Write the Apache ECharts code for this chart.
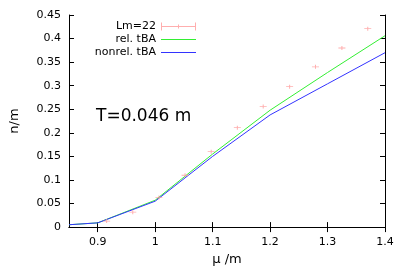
<!DOCTYPE html>
<html><head><meta charset="utf-8">
<script src="https://cdn.jsdelivr.net/npm/echarts@6/dist/echarts.min.js"></script>
<style>html,body{margin:0;padding:0;background:#fff}#c{width:407px;height:271px}</style>
</head><body><div id="c"></div>
<script>
var muLattice = [0.9155, 0.961, 1.0065, 1.052, 1.0975, 1.143, 1.188, 1.234, 1.279, 1.325, 1.370];
var nLattice  = [0.0127, 0.0317, 0.063, 0.110, 0.160, 0.211, 0.256, 0.298, 0.340, 0.380, 0.421];
var muTBA = [0.85, 0.9, 1.0, 1.1, 1.2, 1.3, 1.4];
var nRel = [0.005, 0.009, 0.057, 0.155, 0.248, 0.328, 0.406];
var nNonrel = [0.005, 0.009, 0.055, 0.150, 0.238, 0.304, 0.370];
var xTicks = [0.9, 1.0, 1.1, 1.2, 1.3, 1.4];
var F = 'DejaVu Sans';
function zip(a, b) { return a.map(function (v, i) { return [v, b[i]]; }); }
var chart = echarts.init(document.getElementById('c'));
var fmt = function (v) { return String(+(+v).toFixed(2)); };
var axLine = { show: true, lineStyle: { color: '#000', width: 1 } };
var tick = { show: true, inside: true, length: 5, lineStyle: { color: '#000' } };
var errIcon = 'path://M0,0h1v8h-1z M0,3.5h35v1h-35z M34,0h1v8h-1z M17,2h1v4h-1z';
var lineIcon = 'path://M0,3.5h35v1h-35z M0,0h0.01v8h-0.01z';
var legendBase = { orient: 'vertical', align: 'right', itemWidth: 35, itemHeight: 8, padding: 0,
  textStyle: { fontFamily: F, fontSize: 11, color: '#000' } };
chart.setOption({
  animation: false,
  grid: { left: 67, right: 22, top: 15, bottom: 43 },
  xAxis: [{
    type: 'value', min: 0.85, max: 1.4,
    name: 'μ /m', nameLocation: 'middle', nameGap: 25,
    nameTextStyle: { fontFamily: F, fontSize: 13, color: '#000' },
    axisLine: axLine, axisTick: Object.assign({ customValues: xTicks }, tick),
    axisLabel: { customValues: xTicks, formatter: fmt, fontFamily: F, fontSize: 11, color: '#000', margin: 10 },
    splitLine: { show: false }
  }, {
    type: 'value', min: 0.85, max: 1.4, position: 'top',
    axisLine: axLine, axisTick: Object.assign({ customValues: xTicks }, tick),
    axisLabel: { show: false }, splitLine: { show: false }
  }],
  yAxis: [{
    type: 'value', min: 0, max: 0.45, interval: 0.05,
    name: 'n/m', nameLocation: 'middle', nameGap: 48,
    nameTextStyle: { fontFamily: F, fontSize: 13, color: '#000' },
    axisLine: axLine, axisTick: tick,
    axisLabel: { formatter: fmt, fontFamily: F, fontSize: 11, color: '#000', margin: 8 },
    splitLine: { show: false }
  }, {
    type: 'value', min: 0, max: 0.45, interval: 0.05, position: 'right',
    axisLine: axLine, axisTick: tick, axisLabel: { show: false }, splitLine: { show: false }
  }],
  legend: [
    Object.assign({ data: [{ name: 'Lm=22', icon: errIcon }], right: 211, top: 21 }, legendBase),
    Object.assign({ data: [{ name: 'rel. tBA', icon: lineIcon }], right: 211, top: 34 }, legendBase),
    Object.assign({ data: [{ name: 'nonrel. tBA', icon: lineIcon }], right: 211, top: 47 }, legendBase)
  ],
  graphic: [{
    type: 'text', left: 96, top: 108,
    style: { text: 'T=0.046 m', fontFamily: F, fontSize: 17, fill: '#000' }
  }],
  series: [{
    name: 'Lm=22', type: 'scatter', data: zip(muLattice, nLattice),
    symbol: 'path://M0,2h7v1h-7z M3,0h1v5h-1z', symbolSize: [7, 4],
    itemStyle: { color: '#ff9a9a' }, z: 3
  }, {
    name: 'rel. tBA', type: 'line', data: zip(muTBA, nRel), showSymbol: false, symbol: 'none',
    lineStyle: { color: '#33ee33', width: 1 }, itemStyle: { color: '#33ee33' }
  }, {
    name: 'nonrel. tBA', type: 'line', data: zip(muTBA, nNonrel), showSymbol: false, symbol: 'none',
    lineStyle: { color: '#3333ff', width: 1 }, itemStyle: { color: '#3333ff' }
  }]
});
</script></body></html>
